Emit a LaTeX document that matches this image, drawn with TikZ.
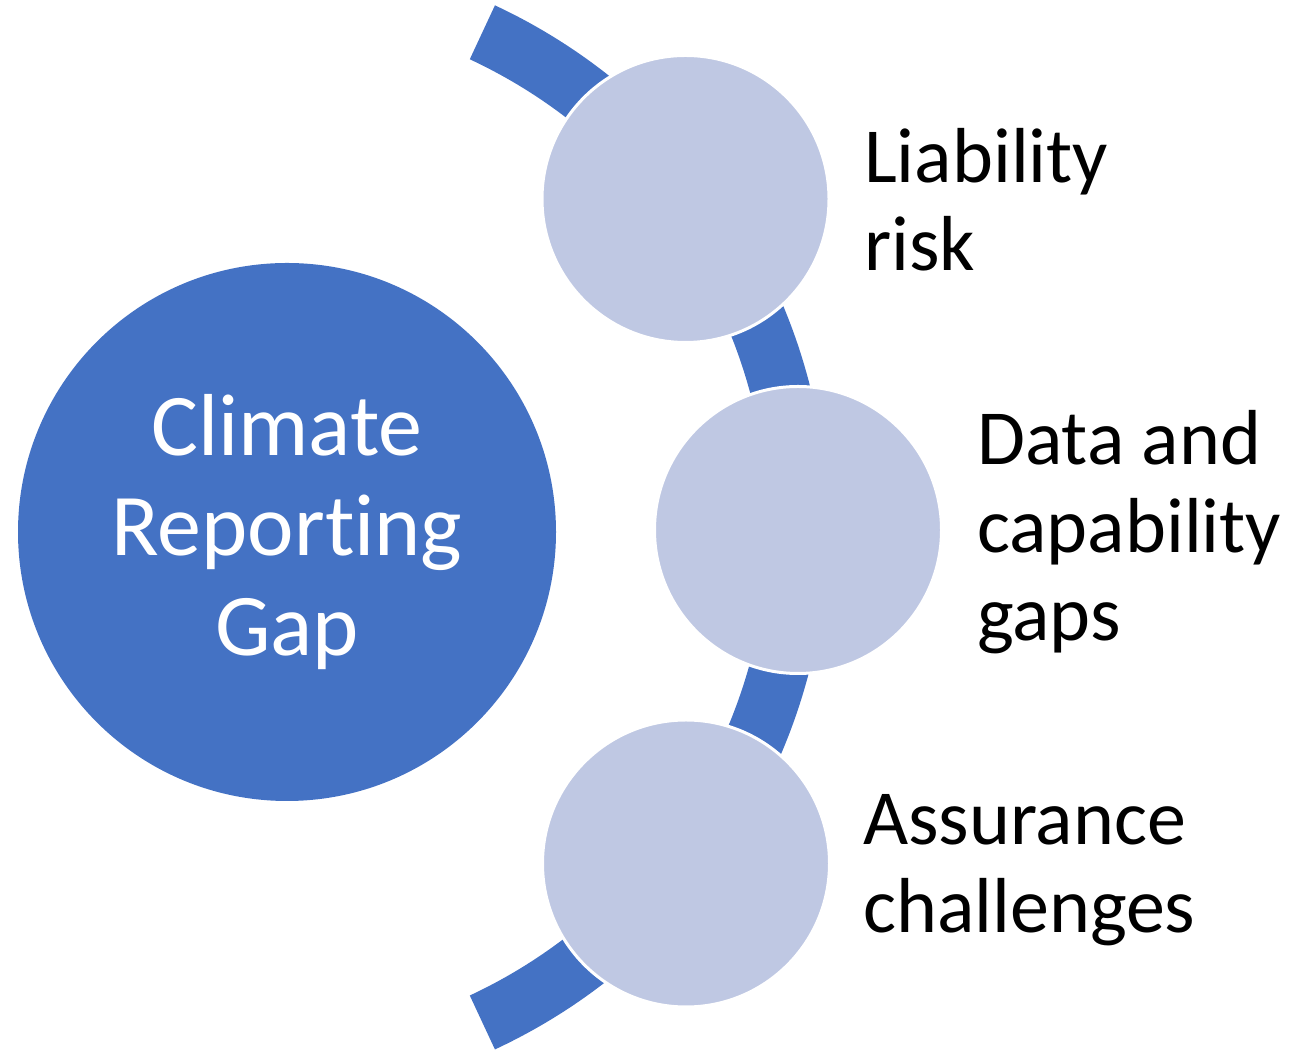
\documentclass[tikz,border=0pt]{standalone}
\usepackage{fontspec}
\setmainfont{Carlito}[Ligatures=NoCommon]
\definecolor{accentblue}{RGB}{68,114,196}
\definecolor{lightblue}{RGB}{191,200,227}
\begin{document}
\begin{tikzpicture}[x=1pt,y=1pt,
  hub/.style={circle,fill=accentblue,draw=none,minimum size=538pt,inner sep=0pt,
    text=white,align=center,font=\fontsize{88}{100}\selectfont},
  item/.style={circle,fill=lightblue,draw=white,line width=3pt,minimum size=287pt,inner sep=0pt},
  label/.style={anchor=west,align=left,inner sep=0pt,text=black,font=\fontsize{78}{88}\selectfont}]
  \useasboundingbox (0,0) rectangle (1296,1054);
  % curved band linking the three items
  \fill[accentblue,shift={(251.5,526.6)}]
    (-65:576) arc[start angle=-65,end angle=65,radius=576]
    -- (65:516.5) arc[start angle=65,end angle=-65,radius=516.5] -- cycle;
  % central topic
  \node[hub] (gap) at (287,522) {Climate\\Reporting\\Gap};
  % items on the band
  \node[item] (c1) at (685.5,855) {};
  \node[item] (c2) at (798,524) {};
  \node[item] (c3) at (686,190.5) {};
  % item captions
  \node[label] (t1) at (864,854) {Liability\\risk};
  \node[label] (t2) at (977,522) {Data and\\capability\\gaps};
  \node[label] (t3) at (863,184) {Assurance\\challenges};
\end{tikzpicture}
\end{document}
